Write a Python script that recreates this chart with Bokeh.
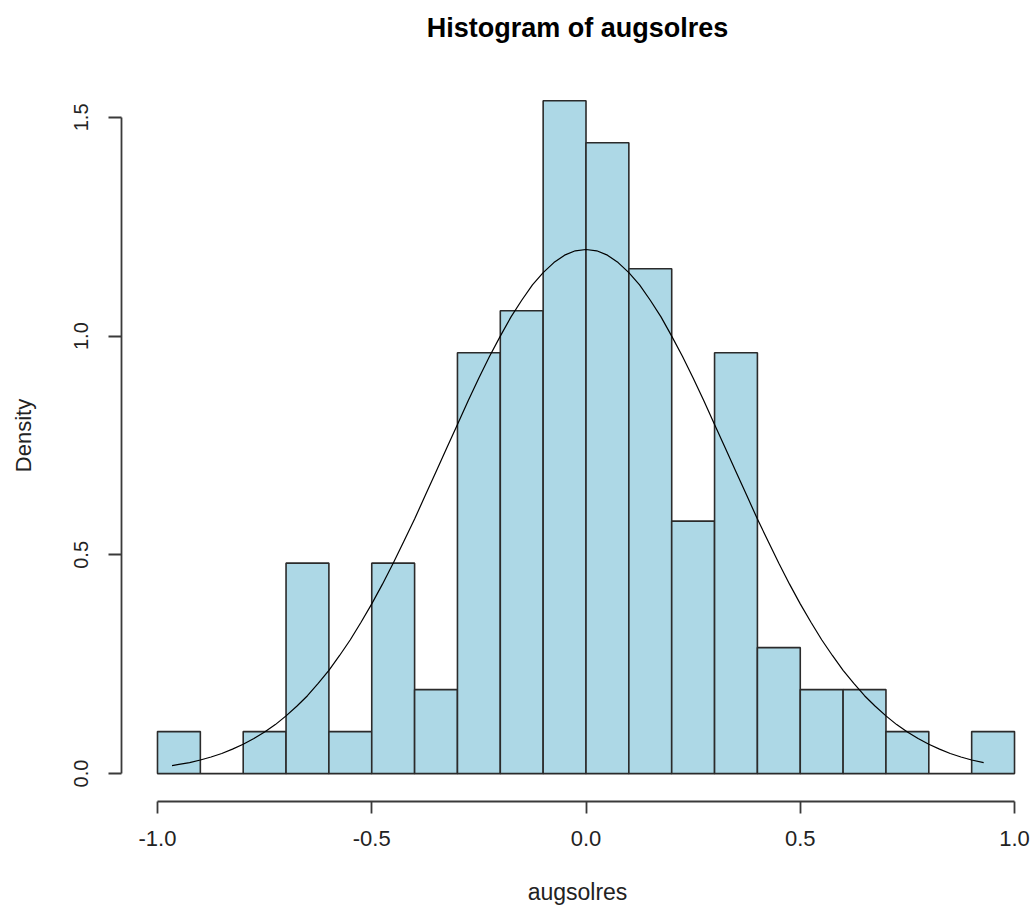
from bokeh.plotting import figure
from bokeh.models import Range1d, FixedTicker, CustomJSTickFormatter, Title
from bokeh.embed import file_html
from bokeh.resources import INLINE

# histogram bin edges and densities
bin_left = [-1.0, -0.9, -0.8, -0.7, -0.6, -0.5, -0.4, -0.3, -0.2, -0.1,
            0.0, 0.1, 0.2, 0.3, 0.4, 0.5, 0.6, 0.7, 0.8, 0.9]
bin_right = [-0.9, -0.8, -0.7, -0.6, -0.5, -0.4, -0.3, -0.2, -0.1, 0.0,
             0.1, 0.2, 0.3, 0.4, 0.5, 0.6, 0.7, 0.8, 0.9, 1.0]
density = [0.096, 0.0, 0.096, 0.481, 0.096, 0.481, 0.192, 0.962, 1.058, 1.538,
           1.442, 1.154, 0.577, 0.962, 0.288, 0.192, 0.192, 0.096, 0.0, 0.096]

# fitted density curve
curve_x = [-0.966, -0.95, -0.925, -0.9, -0.875, -0.85, -0.825, -0.8, -0.775, -0.75,
           -0.725, -0.7, -0.675, -0.65, -0.625, -0.6, -0.575, -0.55, -0.525, -0.5,
           -0.475, -0.45, -0.425, -0.4, -0.375, -0.35, -0.325, -0.3, -0.275, -0.25,
           -0.225, -0.2, -0.175, -0.15, -0.125, -0.1, -0.075, -0.05, -0.025, 0.0,
           0.025, 0.05, 0.075, 0.1, 0.125, 0.15, 0.175, 0.2, 0.225, 0.25,
           0.275, 0.3, 0.325, 0.35, 0.375, 0.4, 0.425, 0.45, 0.475, 0.5,
           0.525, 0.55, 0.575, 0.6, 0.625, 0.65, 0.675, 0.7, 0.725, 0.75,
           0.775, 0.8, 0.825, 0.85, 0.875, 0.9, 0.928]
curve_y = [0.018, 0.021, 0.025, 0.031, 0.038, 0.046, 0.056, 0.067, 0.080, 0.095,
           0.112, 0.132, 0.154, 0.178, 0.206, 0.236, 0.270, 0.306, 0.346, 0.388,
           0.433, 0.481, 0.531, 0.582, 0.636, 0.690, 0.744, 0.798, 0.852, 0.904,
           0.954, 1.000, 1.044, 1.082, 1.117, 1.145, 1.168, 1.185, 1.195, 1.198,
           1.195, 1.185, 1.168, 1.145, 1.117, 1.082, 1.044, 1.000, 0.954, 0.904,
           0.852, 0.798, 0.744, 0.690, 0.636, 0.582, 0.531, 0.481, 0.433, 0.388,
           0.346, 0.306, 0.270, 0.236, 0.206, 0.178, 0.154, 0.132, 0.112, 0.095,
           0.080, 0.067, 0.056, 0.046, 0.038, 0.031, 0.025]

x_ticks = [-1.0, -0.5, 0.0, 0.5, 1.0]
y_ticks = [0.0, 0.5, 1.0, 1.5]

title_text = "Histogram of augsolres"
x_label = "augsolres"
y_label = "Density"

FONT = "Liberation Sans"
AXIS_COLOR = "#3a3a3a"

p = figure(width=1033, height=907, output_backend="svg", toolbar_location=None,
           x_range=Range1d(-1.084, 1.0443), y_range=Range1d(-0.0638, 1.6094),
           min_border_left=121, min_border_right=0, min_border_top=69,
           min_border_bottom=104, background_fill_color="white",
           border_fill_color="white")
p.outline_line_color = None
p.xgrid.visible = False
p.ygrid.visible = False

p.quad(left=bin_left, right=bin_right, bottom=0, top=density,
       fill_color="#ADD8E6", line_color="#2b2b2b", line_width=1.6)
p.line(curve_x, curve_y, line_color="black", line_width=1.2)

# main title (R style: centred over the plot region, high in the margin)
main_title = Title(text=title_text, align="center", offset=9, standoff=20,
                   text_font=FONT, text_font_size="27px",
                   text_font_style="bold", text_color="black")
# thin spacer between the title and the plot frame
spacer = Title(text=" ", text_font_size="1px", standoff=14,
               text_color="white")
p.above = [spacer, main_title]

ax = p.xaxis[0]
ax.ticker = FixedTicker(ticks=x_ticks)
ax.formatter = CustomJSTickFormatter(code="return tick.toFixed(1)")
ax.bounds = (-1, 1)
ax.major_tick_out = 12
ax.major_tick_in = 0
ax.minor_tick_line_color = None
ax.axis_line_color = AXIS_COLOR
ax.axis_line_width = 1.8
ax.major_tick_line_color = AXIS_COLOR
ax.major_tick_line_width = 1.8
ax.major_label_text_font = FONT
ax.major_label_text_font_size = "22px"
ax.major_label_text_color = "#222222"
ax.major_label_standoff = 17
ax.axis_label = x_label
ax.axis_label_text_font = FONT
ax.axis_label_text_font_style = "normal"
ax.axis_label_text_font_size = "23px"
ax.axis_label_text_color = "#222222"
ax.axis_label_standoff = 30

ay = p.yaxis[0]
ay.ticker = FixedTicker(ticks=y_ticks)
ay.formatter = CustomJSTickFormatter(code="return tick.toFixed(1)")
ay.bounds = (0, 1.5)
ay.major_tick_out = 13
ay.major_tick_in = 0
ay.minor_tick_line_color = None
ay.axis_line_color = AXIS_COLOR
ay.axis_line_width = 1.8
ay.major_tick_line_color = AXIS_COLOR
ay.major_tick_line_width = 1.8
ay.major_label_orientation = "vertical"
ay.major_label_text_font = FONT
ay.major_label_text_font_size = "20px"
ay.major_label_text_color = "#222222"
ay.major_label_standoff = 20
ay.axis_label = y_label
ay.axis_label_text_font = FONT
ay.axis_label_text_font_style = "normal"
ay.axis_label_text_font_size = "22px"
ay.axis_label_text_color = "#222222"
ay.axis_label_standoff = 36

open("out.html", "w").write(file_html(p, INLINE))
